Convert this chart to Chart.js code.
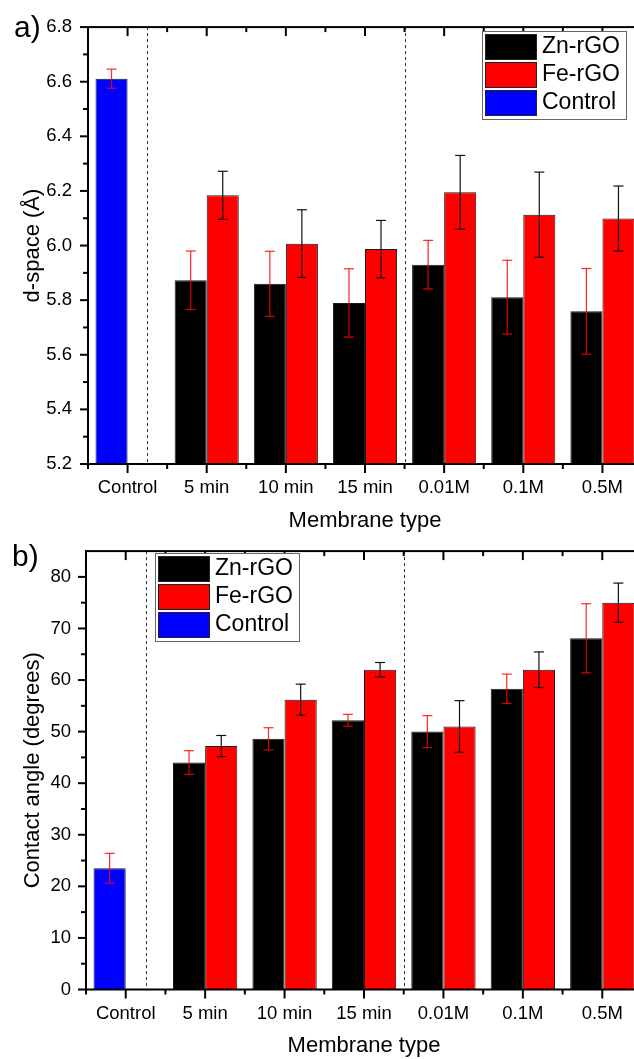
<!DOCTYPE html>
<html>
<head>
<meta charset="utf-8">
<script src="https://cdn.jsdelivr.net/npm/chart.js@4.4.0/dist/chart.umd.min.js"></script>
<style>
    html, body { margin: 0; padding: 0; background: #fff; overflow: hidden; }
    #wrap { position: relative; width: 634px; height: 1059px; overflow: hidden; }
    canvas { position: absolute; left: 0; }
    #dspaceChart { top: 0; }
    #angleChart { top: 525px; }
</style>
</head>
<body>
<div id="wrap">
    <canvas id="dspaceChart" width="660" height="534"></canvas>
    <canvas id="angleChart" width="660" height="534"></canvas>
</div>
<script>
const categories = ['Control', '5 min', '10 min', '15 min', '0.01M', '0.1M', '0.5M'];

// a) d-space (Å)
const dspaceZn = [null, 5.873, 5.860, 5.790, 5.930, 5.811, 5.759];
const dspaceZnErr = [null, 0.107, 0.119, 0.125, 0.089, 0.135, 0.157];
const dspaceFe = [null, 6.184, 6.007, 5.987, 6.195, 6.113, 6.099];
const dspaceFeErr = [null, 0.088, 0.124, 0.105, 0.135, 0.156, 0.119];
const dspaceControl = [6.611, null, null, null, null, null, null];
const dspaceControlErr = [0.035, null, null, null, null, null, null];
const dspaceTicks = [5.2, 5.4, 5.6, 5.8, 6.0, 6.2, 6.4, 6.6, 6.8];

// b) contact angle (degrees)
const angleZn = [null, 44.0, 48.6, 52.2, 50.0, 58.3, 68.1];
const angleZnErr = [null, 2.3, 2.15, 1.15, 3.1, 2.85, 6.7];
const angleFe = [null, 47.2, 56.2, 62.0, 51.0, 62.0, 75.0];
const angleFeErr = [null, 2.05, 3.0, 1.4, 5.0, 3.45, 3.8];
const angleControl = [23.5, null, null, null, null, null, null];
const angleControlErr = [2.9, null, null, null, null, null, null];
const angleTicks = [0, 10, 20, 30, 40, 50, 60, 70, 80];

const FONT = '"Liberation Sans", Arial, sans-serif';

function line(ctx, x1, y1, x2, y2) {
    ctx.beginPath();
    ctx.moveTo(x1, y1);
    ctx.lineTo(x2, y2);
    ctx.stroke();
}

// error bars, divider lines, boxed axes with Origin-style ticks, legend
const originStyle = {
    id: 'originStyle',
    afterDatasetsDraw(chart, args, opts) {
        const { ctx, chartArea: a, scales: { x, y } } = chart;
        ctx.save();

        // dashed dividers
        const step = x.getPixelForValue(1) - x.getPixelForValue(0);
        ctx.strokeStyle = '#333';
        ctx.lineWidth = 1;
        ctx.setLineDash([3, 3]);
        opts.dividers.forEach(d => {
            const px = Math.round(x.getPixelForValue(0) + d * step) + 0.5;
            line(ctx, px, a.top, px, a.bottom);
        });
        ctx.setLineDash([]);

        // error bars
        chart.data.datasets.forEach((ds, di) => {
            const meta = chart.getDatasetMeta(di);
            meta.data.forEach((bar, i) => {
                const v = ds.data[i], e = ds.errors[i];
                if (v == null || e == null) return;
                const hi = y.getPixelForValue(v + e);
                const lo = y.getPixelForValue(v - e);
                ctx.strokeStyle = ds.errColor;
                ctx.lineWidth = 1.2;
                line(ctx, bar.x, hi, bar.x, lo);
                line(ctx, bar.x - 5, hi, bar.x + 5, hi);
                line(ctx, bar.x - 5, lo, bar.x + 5, lo);
            });
        });
        ctx.restore();
    },
    afterDraw(chart, args, opts) {
        const { ctx, chartArea: a, scales: { x, y } } = chart;
        ctx.save();
        ctx.strokeStyle = '#000';

        // frame
        ctx.lineWidth = 2;
        ctx.strokeRect(a.left, a.top, a.right - a.left, a.bottom - a.top);

        // y ticks: outward on the left, inward on the right
        const yMajor = y.ticks.map(t => t.value);
        const yMinor = [];
        for (let i = 0; i < yMajor.length - 1; i++) yMinor.push((yMajor[i] + yMajor[i + 1]) / 2);
        ctx.lineWidth = 2;
        yMajor.forEach(v => {
            const py = y.getPixelForValue(v);
            line(ctx, a.left - 8, py, a.left, py);
            line(ctx, a.right - 8, py, a.right, py);
        });
        yMinor.forEach(v => {
            const py = y.getPixelForValue(v);
            line(ctx, a.left - 5, py, a.left, py);
            line(ctx, a.right - 5, py, a.right, py);
        });

        // x ticks: outward at the bottom, inward at the top
        const n = categories.length;
        const step = x.getPixelForValue(1) - x.getPixelForValue(0);
        for (let i = 0; i < n; i++) {
            const px = x.getPixelForValue(i);
            line(ctx, px, a.bottom, px, a.bottom + 9);
            line(ctx, px, a.top, px, a.top + 9);
        }
        for (let i = 0; i <= n; i++) {
            const px = x.getPixelForValue(0) + (i - 0.5) * step;
            line(ctx, px, a.bottom, px, a.bottom + 5);
            line(ctx, px, a.top, px, a.top + 5);
        }

        // legend box
        const lg = opts.legend;
        ctx.fillStyle = '#fff';
        ctx.fillRect(lg.x, lg.y, 144, 88);
        ctx.strokeStyle = '#666';
        ctx.lineWidth = 1;
        ctx.strokeRect(lg.x + 0.5, lg.y + 0.5, 144, 88);
        ctx.font = '23px ' + FONT;
        ctx.textBaseline = 'middle';
        chart.data.datasets.forEach((ds, i) => {
            const sy = lg.y + 3 + i * 28;
            ctx.fillStyle = ds.backgroundColor;
            ctx.fillRect(lg.x + 3.5, sy, 51, 25);
            ctx.strokeStyle = '#222';
            ctx.strokeRect(lg.x + 3.5, sy + 0.5, 51, 25);
            ctx.fillStyle = '#000';
            ctx.fillText(ds.label, lg.x + 60, sy + 13);
        });

        // panel letter
        ctx.font = opts.panelSize + 'px ' + FONT;
        ctx.textBaseline = 'alphabetic';
        ctx.fillStyle = '#000';
        ctx.fillText(opts.panel, opts.panelX, opts.panelY);
        ctx.restore();
    }
};

function barDatasets(zn, znErr, fe, feErr, ctrl, ctrlErr) {
    return [
        { label: 'Zn-rGO', data: zn, errors: znErr, errColor: 'rgba(255,0,0,0.85)', backgroundColor: '#000000', stack: 'left' },
        { label: 'Fe-rGO', data: fe, errors: feErr, errColor: '#111111', backgroundColor: '#ff0000', stack: 'right' },
        { label: 'Control', data: ctrl, errors: ctrlErr, errColor: 'rgba(255,0,0,0.85)', backgroundColor: '#0000ff', stack: 'left' }
    ].map(d => Object.assign(d, {
        borderColor: '#1a1a1a',
        borderWidth: 1,
        categoryPercentage: 0.81,
        barPercentage: 1
    }));
}

function makeChart(id, datasets, cfg) {
    return new Chart(document.getElementById(id), {
        type: 'bar',
        data: { labels: categories, datasets: datasets },
        options: {
            responsive: false,
            animation: false,
            devicePixelRatio: 1,
            layout: { padding: { left: 0, right: 18, top: cfg.top, bottom: 0 } },
            plugins: {
                legend: { display: false },
                tooltip: { enabled: false },
                originStyle: {
                    dividers: [0.25, 3.5],
                    legend: cfg.legend,
                    panel: cfg.panel,
                    panelX: cfg.panelX,
                    panelY: cfg.panelY,
                    panelSize: cfg.panelSize
                }
            },
            scales: {
                x: {
                    stacked: true,
                    grid: { display: false, drawTicks: false },
                    border: { display: false },
                    ticks: {
                        color: '#000',
                        font: { size: 18.5, family: FONT },
                        padding: 13,
                        maxRotation: 0,
                        autoSkip: false
                    },
                    title: {
                        display: true,
                        text: 'Membrane type',
                        color: '#000',
                        font: { size: 22, family: FONT },
                        padding: { top: 0, bottom: 0 }
                    },
                    afterFit: s => { s.height = cfg.xHeight; }
                },
                y: {
                    stacked: false,
                    min: cfg.min,
                    max: cfg.max,
                    grid: { display: false, drawTicks: false },
                    border: { display: false },
                    afterBuildTicks: s => { s.ticks = cfg.ticks.map(v => ({ value: v })); },
                    ticks: {
                        color: '#000',
                        font: { size: 18.5, family: FONT },
                        padding: cfg.yPad,
                        callback: v => v.toFixed(cfg.decimals)
                    },
                    title: {
                        display: true,
                        text: cfg.yTitle,
                        color: '#000',
                        font: { size: 22, family: FONT },
                        padding: { top: 20, bottom: 0 }
                    },
                    afterFit: s => { s.width = cfg.left; }
                }
            }
        },
        plugins: [originStyle]
    });
}

makeChart('dspaceChart',
    barDatasets(dspaceZn, dspaceZnErr, dspaceFe, dspaceFeErr, dspaceControl, dspaceControlErr),
    {
        top: 18, xHeight: 70, left: 88, yPad: 16, min: 5.2, max: 6.8, decimals: 1,
        ticks: dspaceTicks, yTitle: 'd-space (Å)',
        legend: { x: 482, y: 31 },
        panel: 'a)', panelX: 14, panelY: 37, panelSize: 30
    });

makeChart('angleChart',
    barDatasets(angleZn, angleZnErr, angleFe, angleFeErr, angleControl, angleControlErr),
    {
        top: 17, xHeight: 69.5, left: 86, yPad: 15, min: 0, max: 85, decimals: 0,
        ticks: angleTicks, yTitle: 'Contact angle (degrees)',
        legend: { x: 155, y: 28 },
        panel: 'b)', panelX: 12, panelY: 41, panelSize: 30
    });
</script>
</body>
</html>
